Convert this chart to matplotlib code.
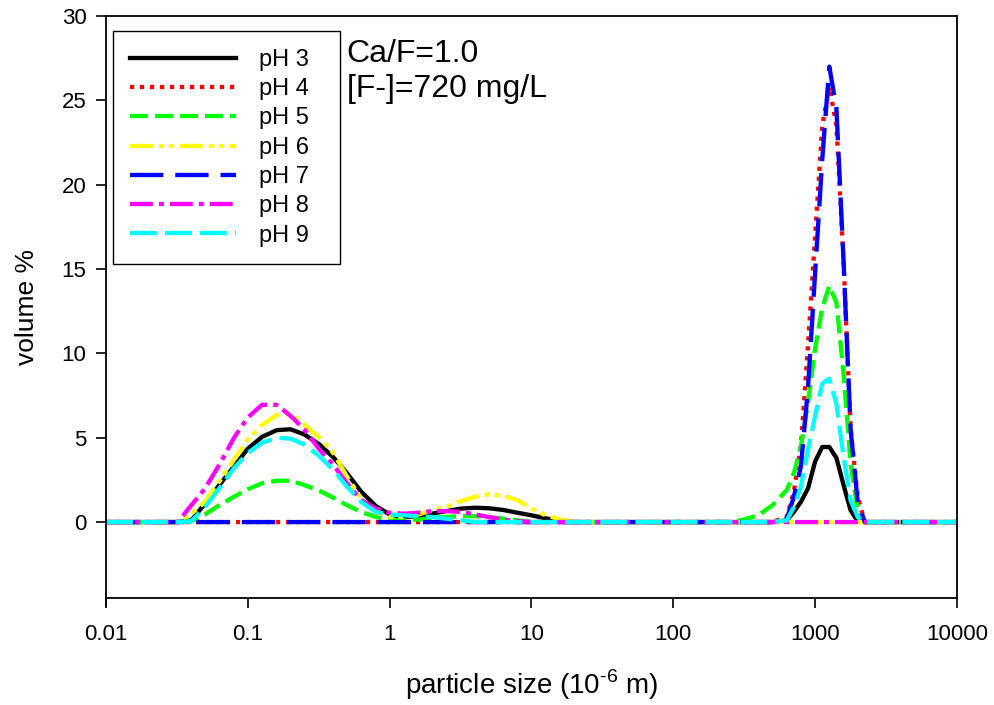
import numpy as np
import matplotlib
matplotlib.use("Agg")
import matplotlib.pyplot as plt
from matplotlib.ticker import FixedLocator, FixedFormatter, NullLocator

plt.rcParams['font.family'] = ['Liberation Sans', 'DejaVu Sans']
plt.rcParams['mathtext.fontset'] = 'custom'
plt.rcParams['mathtext.rm'] = 'Liberation Sans'
plt.rcParams['lines.scale_dashes'] = False

# particle size classes (10^-6 m)
sizes = [0.01, 0.02, 0.032, 0.04, 0.05, 0.063, 0.08, 0.1, 0.126, 0.16,
         0.2, 0.25, 0.32, 0.4, 0.5, 0.63, 0.8, 1.0, 1.26, 1.6,
         2.0, 2.5, 3.2, 4.0, 5.0, 6.3, 8.0, 10.0, 12.6, 16.0, 20.0, 25.0,
         250, 316, 398, 501, 631, 708, 794, 891, 1000, 1122, 1259, 1413,
         1585, 1778, 1995, 2239, 2512, 10000]

# volume % for each pH
ph3 = [0, 0, 0, 0.1, 1.1, 2.2, 3.3, 4.35, 5.05, 5.45,
       5.5, 5.2, 4.6, 3.85, 2.9, 1.8, 0.95, 0.45, 0.3, 0.35,
       0.5, 0.65, 0.8, 0.85, 0.82, 0.72, 0.55, 0.4, 0.22, 0.08, 0, 0,
       0, 0, 0, 0, 0.1, 0.6, 1.2, 2.0, 3.6, 4.45, 4.45, 3.8,
       2.2, 0.7, 0.05, 0, 0, 0]
ph4 = [0] * 32 + [0, 0, 0, 0, 0.3, 1.8, 4.5, 10.5, 17.0, 23.5, 25.8, 23.5,
                  15.5, 5.5, 1.5, 0, 0, 0]
ph5 = [0, 0, 0, 0.05, 0.45, 1.0, 1.5, 1.95, 2.3, 2.45,
       2.45, 2.2, 1.85, 1.45, 1.0, 0.6, 0.3, 0.15, 0.1, 0.15,
       0.25, 0.3, 0.35, 0.35, 0.3, 0.2, 0.1, 0, 0, 0, 0, 0,
       0, 0.15, 0.4, 1.0, 1.9, 2.9, 4.5, 7.1, 10.3, 12.7, 14.0, 13.0,
       8.8, 3.5, 0.7, 0, 0, 0]
ph6 = [0, 0, 0, 0.5, 1.2, 2.4, 3.7, 4.9, 5.75, 6.35,
       6.4, 5.8, 5.0, 4.1, 2.7, 1.4, 0.6, 0.3, 0.3, 0.45,
       0.7, 0.9, 1.25, 1.5, 1.65, 1.55, 1.3, 0.8, 0.4, 0.15, 0, 0] + [0] * 18
ph7 = [0] * 32 + [0, 0, 0, 0, 0.2, 1.5, 3.3, 8.0, 14.8, 21.5, 27.0, 24.5,
                  15.5, 5.5, 1.2, 0, 0, 0]
ph8 = [0, 0, 0, 1.0, 2.0, 3.4, 5.0, 6.2, 6.95, 6.95,
       6.3, 5.5, 4.3, 3.4, 2.3, 1.3, 0.8, 0.55, 0.5, 0.55,
       0.65, 0.65, 0.6, 0.45, 0.3, 0.15, 0.05, 0, 0, 0, 0, 0] + [0] * 18
ph9 = [0, 0, 0, 0.05, 0.9, 2.0, 3.2, 4.1, 4.7, 5.0,
       4.95, 4.6, 3.9, 3.1, 2.1, 1.2, 0.6, 0.45, 0.4, 0.35,
       0.3, 0.2, 0.1, 0, 0, 0, 0, 0, 0, 0, 0, 0,
       0, 0, 0, 0, 0.1, 0.9, 2.1, 4.3, 6.3, 8.2, 8.5, 7.0,
       3.9, 1.3, 0.3, 0, 0, 0]

labels = ['pH 3', 'pH 4', 'pH 5', 'pH 6', 'pH 7', 'pH 8', 'pH 9']
series = [ph3, ph4, ph5, ph6, ph7, ph8, ph9]
colors = ['black', '#ff0000', '#00ff00', '#ffff00', '#0000ff', '#ff00ff', '#00ffff']
dashes = [None, (3, 4.2), (13, 5), (16.5, 4.3, 3.6, 3.6, 3.6, 4.3),
          (24, 8.6), (16.5, 4.3, 3.6, 4.3), (19.4, 5.8)]

xticks = [0.01, 0.1, 1, 10, 100, 1000, 10000]
xticklabels = ['0.01', '0.1', '1', '10', '100', '1000', '10000']

fig = plt.figure(figsize=(9.95, 7.05), dpi=100)
ax = fig.add_axes([0.1065, 0.1518, 0.8553, 0.8255])

lines = []
for y, c, d in zip(series, colors, dashes):
    if d is None:
        ln, = ax.plot(sizes, y, color=c, lw=3.1)
    else:
        ln, = ax.plot(sizes, y, color=c, lw=3.1, dashes=d)
    lines.append(ln)

ax.set_xscale('log')
ax.set_xlim(0.01, 10000)
ax.set_ylim(-4.5, 30)
ax.xaxis.set_major_locator(FixedLocator(xticks))
ax.xaxis.set_major_formatter(FixedFormatter(xticklabels))
ax.xaxis.set_minor_locator(NullLocator())
ax.set_yticks([0, 5, 10, 15, 20, 25, 30])
ax.tick_params(direction='out', length=7, width=1.2, labelsize=16, pad=7)
ax.tick_params(axis='x', pad=12)
ax.spines['left'].set_bounds(-5, 30)
for s in ax.spines.values():
    s.set_linewidth(1.3)

ax.set_xlabel(r'particle size (10$^{\text{-6}}$ m)', fontsize=20, labelpad=16)
ax.set_ylabel('volume %', fontsize=19, labelpad=16)

ax.text(0.283, 0.96, 'Ca/F=1.0\n[F-]=720 mg/L', transform=ax.transAxes,
        fontsize=23, va='top', ha='left', linespacing=1.2)

# trailing spaces widen the right margin of the legend box
leg = ax.legend(lines, [l + '  ' for l in labels], loc='upper left',
                bbox_to_anchor=(0.008, 0.974), fontsize=17,
                handlelength=4.45, handletextpad=1.0, labelspacing=0.31,
                borderpad=0.75, borderaxespad=0, fancybox=False,
                framealpha=1, edgecolor='black')
leg.get_frame().set_linewidth(1.0)

plt.savefig('out.png', dpi=100)
